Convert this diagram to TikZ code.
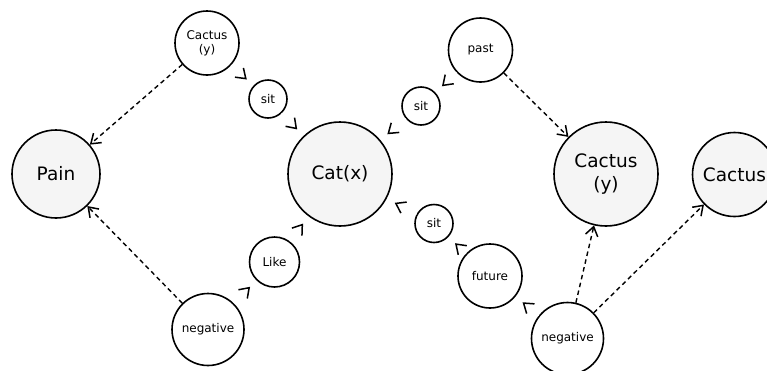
\documentclass[tikz,border=0pt]{standalone}
\usepackage{fontspec}
\setmainfont{DejaVu Sans}
\usetikzlibrary{arrows.meta}

\begin{document}
\begin{tikzpicture}[x=1pt, y=-1pt,
  concept/.style={circle, draw=black, line width=1.6pt, fill=black!4,
    inner sep=0pt, align=center, font=\fontsize{18.5}{23}\selectfont},
  relation/.style={circle, draw=black, line width=1.6pt, fill=white,
    inner sep=0pt, align=center, font=\fontsize{12}{14}\selectfont},
  vee/.tip={Straight Barb[length=9pt, width=12.5pt, line width=1.5pt]},
  link/.style={draw=white, line width=1.4pt, shorten >=9pt, -{vee[black]}},
  implies/.style={draw=black, line width=1.4pt, dash pattern=on 4.5pt off 3.5pt, -{vee}}
]
\useasboundingbox (0,0) rectangle (767,370);
\clip (0,0) rectangle (767,370);

% concept nodes
\node[concept, minimum size=88pt]  (pain)    at (56,174)    {Pain};
\node[concept, minimum size=104pt] (cat)     at (340,174)   {Cat(x)};
\node[concept, minimum size=104pt] (cactusB) at (606,174)   {Cactus\\(y)};
\node[concept, minimum size=84pt]  (cactusC) at (734.5,174.5) {Cactus};

% relation nodes
\node[relation, minimum size=64pt] (cactusA) at (207,43)    {Cactus\\(y)};
\node[relation, minimum size=38pt] (sitA)    at (268,99)    {sit};
\node[relation, minimum size=64pt] (past)    at (480.5,50)  {past};
\node[relation, minimum size=38pt] (sitB)    at (421,106)   {sit};
\node[relation, minimum size=38pt] (sitC)    at (434,223.5) {sit};
\node[relation, minimum size=64pt] (future)  at (490,276)   {future};
\node[relation, minimum size=50pt] (like)    at (274.5,262) {Like};
\node[relation, minimum size=72pt] (negA)    at (208,329.5) {negative};
\node[relation, minimum size=72pt] (negB)    at (567.5,338.5) {negative};

% relation chains
\draw[link] (cactusA) -- (sitA);
\draw[link] (sitA) -- (cat);
\draw[link] (negA) -- (like);
\draw[link] (like) -- (cat);
\draw[link] (past) -- (sitB);
\draw[link] (sitB) -- (cat);
\draw[link] (negB) -- (future);
\draw[link] (future) -- (sitC);
\draw[link] (sitC) -- (cat);

% implications
\draw[implies] (cactusA) -- (pain);
\draw[implies] (negA) -- (pain);
\draw[implies] (past) -- (cactusB);
\draw[implies] (negB) -- (cactusB);
\draw[implies] (negB) -- (cactusC);
\end{tikzpicture}
\end{document}
